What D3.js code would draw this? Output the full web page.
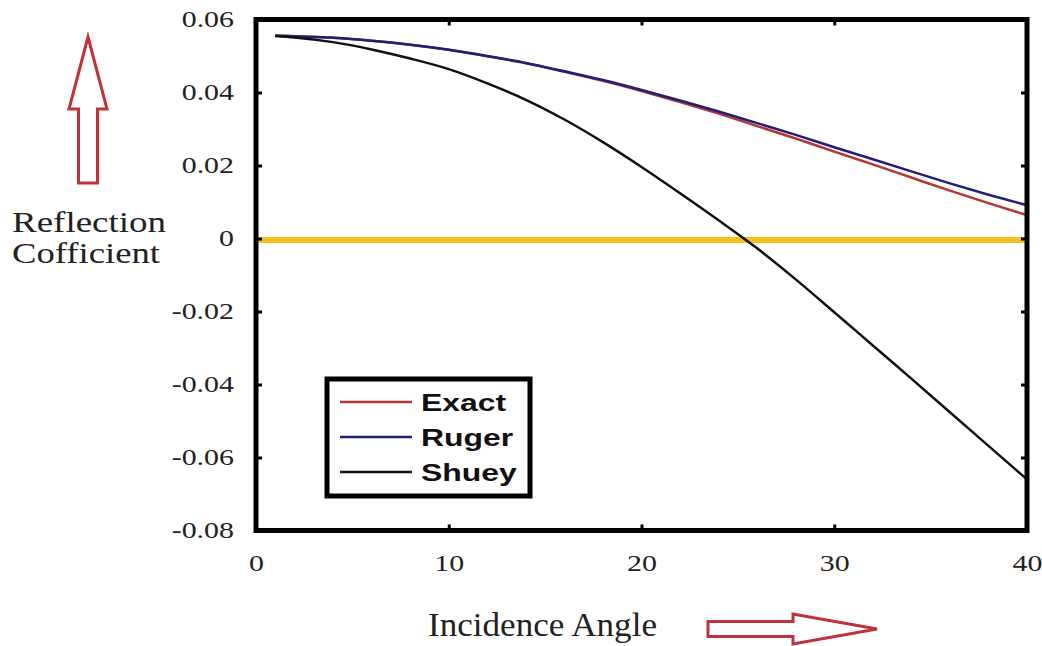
<!DOCTYPE html>
<html>
<head>
<meta charset="utf-8">
<script src="https://cdn.jsdelivr.net/npm/d3@7/dist/d3.min.js"></script>
<style>
  body { margin: 0; background: #fff; }
</style>
</head>
<body>
<script>
// values
const angles = [1, 2, 4, 6, 8, 10, 12, 14, 16, 18, 20, 22, 24, 26, 28, 30, 32, 34, 36, 38, 40]
const exact  = [0.0556, 0.0554, 0.0550, 0.0542, 0.0531, 0.0517, 0.0499, 0.0480, 0.0457, 0.0432, 0.0404,
                0.0374, 0.0342, 0.0308, 0.0274, 0.0238, 0.0203, 0.0167, 0.0131, 0.0097, 0.0064]
const ruger  = [0.0556, 0.0554, 0.0550, 0.0542, 0.0531, 0.0517, 0.0500, 0.0481, 0.0458, 0.0434, 0.0407,
                0.0378, 0.0348, 0.0316, 0.0284, 0.0250, 0.0217, 0.0184, 0.0151, 0.0120, 0.0091]
const shuey  = [0.0555, 0.0551, 0.0538, 0.0518, 0.0493, 0.0464, 0.0425, 0.0380, 0.0326, 0.0264, 0.0196,
                0.0124, 0.0050, -0.0027, -0.0112, -0.0202, -0.0293, -0.0384, -0.0476, -0.0568, -0.0660]
const seriesNames = ["Exact", "Ruger", "Shuey"]
const seriesColors = ["#b83434", "#1f1f78", "#111111"]
const xTicks = [0, 10, 20, 30, 40]
const yTicks = [0.06, 0.04, 0.02, 0, -0.02, -0.04, -0.06, -0.08]
const yTickLabels = ["0.06", "0.04", "0.02", "0", "-0.02", "-0.04", "-0.06", "-0.08"]
const zeroLine = 0
const yTitle = ["Reflection", "Cofficient"]
const xTitle = "Incidence Angle"

const W = 1042, H = 646
const pL = 256, pR = 1027, pT = 19.5, pB = 530.5
const serif = "'Liberation Serif', 'Times New Roman', serif"
const red = "#c2303c"

const svg = d3.select("body").append("svg").attr("width", W).attr("height", H)

const x = d3.scaleLinear().domain([0, 40]).range([pL, pR])
const y = d3.scaleLinear().domain([-0.08, 0.06]).range([pB, pT])

// stretch text horizontally like the picture
function stretch(sel, k) {
  sel.each(function () {
    const w = this.getComputedTextLength()
    d3.select(this).attr("textLength", w * k).attr("lengthAdjust", "spacingAndGlyphs")
  })
}

// zero line
svg.append("line")
  .attr("x1", x(0)).attr("x2", x(40))
  .attr("y1", y(zeroLine) + 1.5).attr("y2", y(zeroLine) + 1.5)
  .attr("stroke", "#f4c21c").attr("stroke-width", 6)

// curves
const data = [exact, ruger, shuey]
const line = d3.line().x((d, i) => x(angles[i])).y(d => y(d)).curve(d3.curveMonotoneX)
svg.selectAll("path.curve")
  .data(data)
  .enter().append("path")
  .attr("class", "curve")
  .attr("d", d => line(d))
  .attr("fill", "none")
  .attr("stroke", (d, i) => seriesColors[i])
  .attr("stroke-width", 2.5)

// axes with inward ticks
const gB = svg.append("g").attr("transform", `translate(0,${pB})`)
  .call(d3.axisBottom(x).tickValues(xTicks).tickSizeInner(-6).tickSizeOuter(0).tickPadding(24))
const gT = svg.append("g").attr("transform", `translate(0,${pT})`)
  .call(d3.axisTop(x).tickValues(xTicks).tickSizeInner(-6).tickSizeOuter(0).tickFormat(""))
const gL = svg.append("g").attr("transform", `translate(${pL},0)`)
  .call(d3.axisLeft(y).tickValues(yTicks).tickSizeInner(-6).tickSizeOuter(0).tickPadding(22)
    .tickFormat((d, i) => yTickLabels[i]))
const gR = svg.append("g").attr("transform", `translate(${pR},0)`)
  .call(d3.axisRight(y).tickValues(yTicks).tickSizeInner(-6).tickSizeOuter(0).tickFormat(""))

;[gB, gT, gL, gR].forEach(g => {
  g.select(".domain").remove()
  g.selectAll(".tick line").attr("stroke", "#000").attr("stroke-width", 3)
  g.selectAll("text").attr("font-family", serif).attr("font-size", 23).attr("fill", "#222")
})
stretch(gB.selectAll("text"), 1.3)
stretch(gL.selectAll("text"), 1.3)

// frame
svg.append("rect")
  .attr("x", pL).attr("y", pT)
  .attr("width", pR - pL).attr("height", pB - pT)
  .attr("fill", "none").attr("stroke", "#000").attr("stroke-width", 5)

// legend
const lg = svg.append("g")
lg.append("rect")
  .attr("x", 327).attr("y", 379).attr("width", 203).attr("height", 117)
  .attr("fill", "#fff").attr("stroke", "#000").attr("stroke-width", 5)
const item = lg.selectAll("g.item").data(seriesNames).enter().append("g")
  .attr("class", "item")
  .attr("transform", (d, i) => `translate(340,${402 + i * 35})`)
item.append("line").attr("x1", 0).attr("x2", 72)
  .attr("stroke", (d, i) => seriesColors[i]).attr("stroke-width", 2.5)
const lt = item.append("text").attr("x", 81).attr("y", 9)
  .attr("font-family", "'Liberation Sans', Arial, sans-serif")
  .attr("font-weight", "bold").attr("font-size", 24).attr("fill", "#111")
  .text(d => d)
stretch(lt, 1.33)

// y title
svg.selectAll("text.ytitle").data(yTitle).enter().append("text")
  .attr("class", "ytitle")
  .attr("x", 12).attr("y", (d, i) => 232 + i * 31)
  .attr("font-family", serif).attr("font-size", 30).attr("fill", "#222")
  .attr("textLength", (d, i) => i ? 148 : 154).attr("lengthAdjust", "spacingAndGlyphs")
  .text(d => d)

// x title
svg.append("text")
  .attr("x", 428).attr("y", 636)
  .attr("font-family", serif).attr("font-size", 33).attr("fill", "#222")
  .attr("textLength", 229).attr("lengthAdjust", "spacingAndGlyphs")
  .text(xTitle)

// hollow arrows
const upArrow = [[88, 37], [107, 109], [97.5, 109], [97.5, 183], [78.5, 183], [78.5, 109], [69, 109]]
const rightArrow = [[877, 629], [793, 614], [793, 621.5], [708, 621.5], [708, 636.5], [793, 636.5], [793, 644]]
svg.selectAll("polygon.arrow").data([upArrow, rightArrow]).enter().append("polygon")
  .attr("class", "arrow")
  .attr("points", d => d.map(p => p.join(",")).join(" "))
  .attr("fill", "#fff").attr("stroke", red).attr("stroke-width", 3)
  .attr("stroke-linejoin", "miter")
</script>
</body>
</html>
